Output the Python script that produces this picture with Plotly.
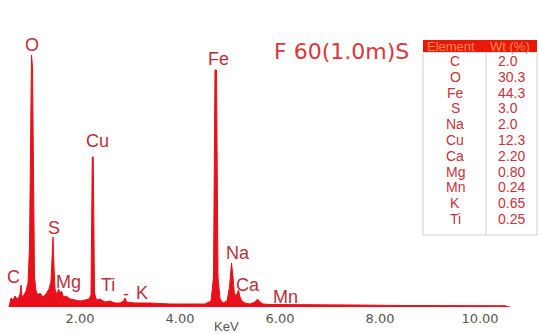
import plotly.graph_objects as go

# Spectrum (energy keV, counts)
energy = [0.58, 0.60, 0.62, 0.66, 0.70, 0.74, 0.78, 0.80, 0.82, 0.84, 0.88, 0.92, 0.96, 0.99,
          1.01, 1.03, 1.05, 1.07, 1.09, 1.12, 1.16, 1.20, 1.26, 1.32, 1.38, 1.42, 1.44, 1.46,
          1.48, 1.50, 1.54, 1.57, 1.60, 1.63, 1.67, 1.72, 1.80, 1.90, 2.00, 2.10, 2.18, 2.22,
          2.245, 2.265, 2.29, 2.33, 2.40, 2.50, 2.60, 2.70, 2.80, 2.87, 2.90, 2.93, 3.10, 3.40,
          3.80, 4.20, 4.50, 4.62, 4.67, 4.70, 4.73, 4.76, 4.80, 4.86, 4.94, 4.99, 5.03, 5.06,
          5.09, 5.13, 5.17, 5.20, 5.24, 5.30, 5.40, 5.50, 5.55, 5.60, 5.66, 5.80, 6.5, 7.5,
          8.5, 9.5, 10.5, 10.6]
counts = [0, 6, 9, 7, 11, 8, 10, 13, 22, 10, 12, 16, 24, 60,
          170, 252, 240, 90, 30, 16, 12, 14, 10, 13, 18, 26, 50, 70,
          40, 18, 12, 18, 14, 16, 10, 11, 8, 7, 6, 7, 8, 12,
          150, 150, 14, 7, 8, 5, 6, 4, 4, 6, 9, 5, 4, 4,
          3, 3, 3, 6, 30, 237, 237, 30, 8, 4, 6, 20, 44, 30,
          12, 12, 17, 10, 6, 4, 3, 5, 8, 5, 3, 2.5, 2, 2,
          1.5, 1.5, 1.2, 0]

# Peak labels
peak_names = ["O", "Fe", "Cu", "S", "C", "Mg", "Ti", "-", "K", "Na", "Ca", "Mn"]
peak_x = [1.04, 4.76, 2.34, 1.48, 0.66, 1.76, 2.56, 2.92, 3.24, 5.16, 5.36, 6.10]
peak_y = [262, 248, 166, 79, 30, 25, 22, 13, 14, 54, 22, 10]

# Ticks
tick_vals = [2, 4, 6, 8, 10]
tick_text = ["2.00", "4.00", "6.00", "8.00", "10.00"]

# Composition table
elements = ["C", "O", "Fe", "S", "Na", "Cu", "Ca", "Mg", "Mn", "K", "Ti"]
wt = ["2.0", "30.3", "44.3", "3.0", "2.0", "12.3", "2.20", "0.80", "0.24", "0.65", "0.25"]

W, H = 539, 334
B = 27
PH = H - B

def py(p):
    return 1 - p / PH

def px(p):
    return p / W

fig = go.Figure()
fig.add_trace(go.Scatter(x=energy, y=counts, mode="lines", fill="tozeroy",
                         line=dict(color="#e8101a", width=1), fillcolor="#e8101a",
                         hoverinfo="skip", showlegend=False))

for n, x, y in zip(peak_names, peak_x, peak_y):
    fig.add_annotation(x=x, y=y, text=n, showarrow=False, xref="x", yref="y",
                       xanchor="center", yanchor="middle",
                       font=dict(family="Liberation Sans", size=18, color="#b8303a"))

def note(x, y, text, size, color, family="Liberation Sans", xanchor="center"):
    fig.add_annotation(x=px(x), y=py(y), xref="paper", yref="paper", text=text,
                       showarrow=False, xanchor=xanchor, yanchor="middle",
                       font=dict(family=family, size=size, color=color))

note(341, 52, "F 60(1.0m)S", 22, "#d8373c", family="DejaVu Sans")
note(226, 326, "KeV", 13, "#555555")

# table
T_L, T_R, T_DIV, T_TOP, T_HB, T_BOT = 423, 537, 486, 40, 52, 235
ROW_H = 15.8
fig.add_shape(type="rect", xref="paper", yref="paper", x0=px(T_L), x1=px(T_R),
              y0=py(T_BOT), y1=py(T_HB), line=dict(color="#d0d0d0", width=1), layer="below")
fig.add_shape(type="line", xref="paper", yref="paper", x0=px(T_DIV), x1=px(T_DIV),
              y0=py(T_BOT), y1=py(T_HB), line=dict(color="#d0d0d0", width=1))
fig.add_shape(type="rect", xref="paper", yref="paper", x0=px(T_L), x1=px(T_R),
              y0=py(T_HB), y1=py(T_TOP), line=dict(width=0), fillcolor="#e8180c")
note(451, 46.5, "Element", 13, "#f58a4a")
note(488, 46.5, "Wt (%)", 13, "#f58a4a", xanchor="left")
for i, (e, w) in enumerate(zip(elements, wt)):
    yy = 61 + i * ROW_H
    note(455, yy, e, 14, "#c8323c")
    note(496, yy, w, 14, "#c8323c", xanchor="left")

fig.update_layout(
    width=W, height=H, margin=dict(l=0, r=0, t=0, b=B),
    paper_bgcolor="white", plot_bgcolor="white",
    xaxis=dict(range=[0.4, 11.18], tickvals=tick_vals, ticktext=tick_text,
               showgrid=False, zeroline=False, showline=False, ticks="",
               ticklabelstandoff=2,
               tickfont=dict(family="DejaVu Sans", size=13, color="#555555")),
    yaxis=dict(range=[0, PH], visible=False, showgrid=False, zeroline=False),
)

fig.write_html("out.html")
